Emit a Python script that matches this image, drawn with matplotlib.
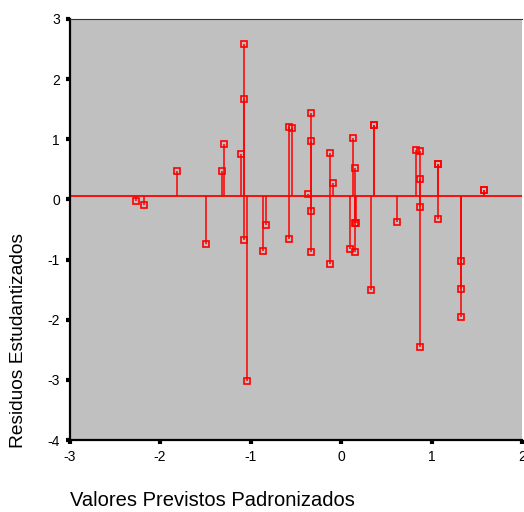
import matplotlib.pyplot as plt
import numpy as np

# valores previstos padronizados (x) e residuos estudantizados (y)
previstos = [-2.27, -2.18, -1.81, -1.49, -1.32, -1.29, -1.10, -1.07, -1.07,
             -1.07, -1.035, -0.866, -0.83, -0.58, -0.58, -0.54, -0.326, -0.326,
             -0.36, -0.326, -0.326, -0.12, -0.086, -0.12, 0.13, 0.16, 0.094,
             0.15, 0.17, 0.16, 0.37, 0.37, 0.33, 0.62, 0.83, 0.87, 0.87, 0.87,
             0.87, 1.076, 1.076, 1.076, 1.327, 1.327, 1.327, 1.584, 1.584]
residuos = [-0.03, -0.09, 0.48, -0.745, 0.48, 0.92, 0.76, 2.59, 1.67,
            -0.68, -3.02, -0.86, -0.42, -0.655, 1.20, 1.18, 1.43, 0.97,
            0.083, -0.19, -0.88, 0.78, 0.28, -1.07, 1.02, 0.53, -0.82,
            -0.40, -0.40, -0.88, 1.245, 1.245, -1.51, -0.37, 0.83, 0.81, 0.345,
            -0.12, -2.46, 0.595, 0.595, -0.33, -1.03, -1.49, -1.95, 0.16, 0.16]
linha_ref = 0.065

xticks = [-3, -2, -1, 0, 1, 2]
yticks = [-4, -3, -2, -1, 0, 1, 2, 3]

fig = plt.figure(figsize=(5.24, 5.12), dpi=100)
ax = fig.add_axes([69.5 / 524, 1 - 440 / 512, (522 - 69.5) / 524, (440 - 19) / 512])
ax.set_facecolor('#c0c0c0')

# linhas de queda ate a linha de referencia
ax.vlines(previstos, linha_ref, residuos, color='red', linewidth=1.1, zorder=2)
ax.axhline(linha_ref, color='red', linewidth=1.3, zorder=2)
ax.plot(previstos, residuos, 's', markersize=5, markerfacecolor='none',
        markeredgecolor='red', markeredgewidth=1.2, zorder=3)

ax.set_xlim(-3, 2)
ax.set_ylim(-4, 3)
ax.set_xticks(xticks)
ax.set_yticks(yticks)
ax.set_xticklabels([str(t) for t in xticks], fontsize=10, family='Liberation Sans')
ax.set_yticklabels([str(t) for t in yticks], fontsize=10, family='Liberation Sans')
ax.tick_params(direction='out', length=3, width=3, color='black', pad=4)

for s in ['left', 'bottom']:
    ax.spines[s].set_linewidth(1.6)
ax.spines['top'].set_linewidth(0.8)
ax.spines['top'].set_color('#333333')
ax.spines['right'].set_visible(False)

fig.text(70 / 524, 1 - 501 / 512, 'Valores Previstos Padronizados', fontsize=14.5,
         family='Liberation Sans', ha='left', va='center')
fig.text(19 / 524, 1 - 340 / 512, 'Residuos Estudantizados', fontsize=13.8,
         family='Liberation Sans', rotation=90, ha='center', va='center')

fig.savefig('out.png', dpi=100)
